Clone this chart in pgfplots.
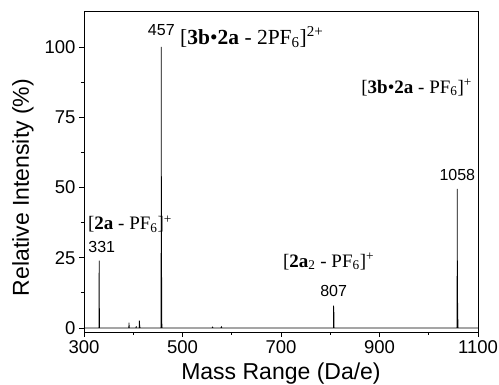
\documentclass[border=0pt]{standalone}
\usepackage{fontspec}
\setmainfont{Liberation Serif}
\newfontfamily\arial{Liberation Sans}
\usepackage{pgfplots}
\pgfplotsset{compat=1.18}
\begin{document}
\begin{tikzpicture}
\begin{axis}[
  at={(0,0)}, anchor=south west,
  width=394pt, height=321pt, scale only axis,
  xmin=300, xmax=1100, ymin=-1.4, ymax=112.8,
  xtick={300,500,700,900,1100},
  ytick={0,25,50,75,100},
  minor x tick num=1, minor y tick num=1,
  tick align=outside, tick pos=left,
  major tick length=5pt, minor tick length=3pt,
  axis line style={line width=0.9pt},
  tick style={line width=0.9pt, black},
  /pgf/number format/assume math mode=true,
  /pgf/number format/1000 sep={},
  ticklabel style={font=\arial\fontsize{18.5}{20}\selectfont},
  xlabel={Mass Range (Da/e)},
  ylabel={Relative Intensity (\%)},
  label style={font=\arial\fontsize{23}{25}\selectfont},
  xlabel style={at={(axis description cs:0.5,0)}, anchor=base, yshift=-48pt},
  ylabel style={at={(axis description cs:-0.155,0.45)}, anchor=center},
]
\addplot[black, line width=0.8pt, sharp plot] coordinates {
(300,0) (330.6,0) (330.8,24) (331,0) (331.3,7) (331.6,0)
(391,0) (391.4,1.9) (391.8,0)
(405.8,0) (406,0.7) (406.3,0)
(412,0) (412.4,2.6) (412.8,0) (413.2,1.2) (413.5,0)
(456.6,0) (456.8,100) (457.0,0) (457.3,54) (457.6,0) (457.8,18) (458.1,0)
(560,0) (561,0.3) (562,0) (578,0) (579,0.4) (580,0)
(806.6,0) (806.8,8) (807,0) (807.3,6) (807.6,0)
(1057.6,0) (1057.8,49.5) (1058,0) (1058.3,24) (1058.6,0) (1058.9,9) (1059.2,0)
(1100,0)
};
\node[anchor=south, inner sep=0pt, font=\arial\fontsize{16}{18}\selectfont] at (axis cs:457,104) {457};
\node[anchor=base west, inner sep=0pt, font=\fontsize{21.5}{23}\selectfont] at (axis cs:495,101) {[\textbf{3b}\textbullet\textbf{2a} - 2PF\textsubscript{6}]\textsuperscript{2+}};
\node[anchor=base east, inner sep=0pt, font=\fontsize{19}{21}\selectfont] at (axis cs:1088,83.6) {[\textbf{3b}\textbullet\textbf{2a} - PF\textsubscript{6}]\textsuperscript{+}};
\node[anchor=south, inner sep=0pt, font=\arial\fontsize{16}{18}\selectfont] at (axis cs:1058,52.5) {1058};
\node[anchor=base west, inner sep=0pt, font=\fontsize{19}{21}\selectfont] at (axis cs:308,35) {[\textbf{2a} - PF\textsubscript{6}]\textsuperscript{+}};
\node[anchor=south, inner sep=0pt, font=\arial\fontsize{16}{18}\selectfont] at (axis cs:336,26.7) {331};
\node[anchor=base west, inner sep=0pt, font=\fontsize{19}{21}\selectfont] at (axis cs:704,21.7) {[\textbf{2a}\textsubscript{2} - PF\textsubscript{6}]\textsuperscript{+}};
\node[anchor=south, inner sep=0pt, font=\arial\fontsize{16}{18}\selectfont] at (axis cs:807,11) {807};
\end{axis}
\pgfresetboundingbox
\path[use as bounding box] (-84pt,-53pt) rectangle (415pt,332pt);
\end{tikzpicture}
\end{document}
